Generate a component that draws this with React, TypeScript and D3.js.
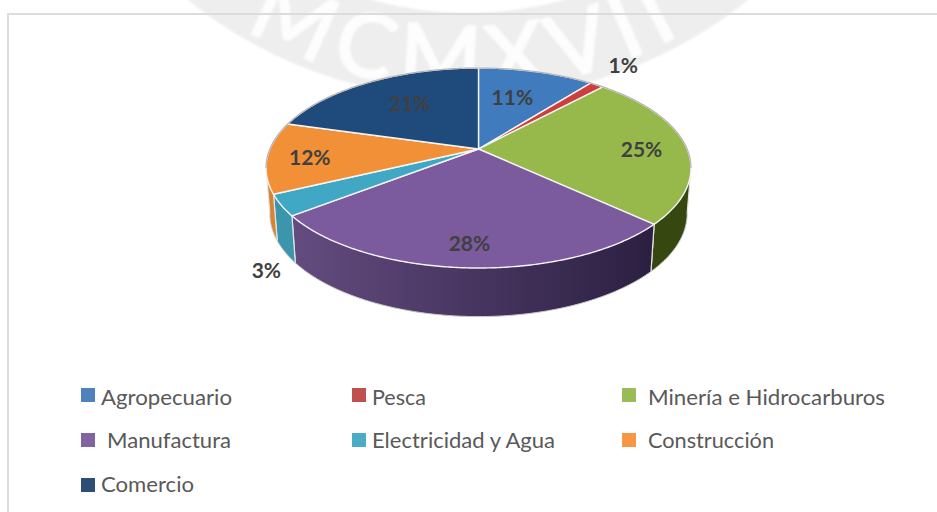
import React from "react";
import * as d3 from "d3";

const categories = ["Agropecuario", "Pesca", "Minería e Hidrocarburos", "Manufactura", "Electricidad y Agua", "Construcción", "Comercio"];
const values = [10.6, 1.3, 25.0, 27.6, 3.4, 11.5, 20.6];
const topColors = ["#3f7bbd", "#cd3f3c", "#97b94b", "#7b5a9e", "#40a8c4", "#f19036", "#1f4a7c"];
const legendColors = ["#4f81bd", "#c0504d", "#9bbb59", "#8064a2", "#4bacc6", "#f79646", "#2c4d75"];
const wallStart = ["#2c5580", "#8a2c2a", "#445a1c", "#644c80", "#3b95ad", "#d98232", "#16345a"];
const wallEnd = ["#2c5580", "#8a2c2a", "#36470f", "#2c2042", "#378da4", "#d98232", "#16345a"];
const labelRadius = [0.615, 1.32, 0.78, 0.83, 1.308, 0.8, 0.628];
const labelTurn = [-2, -1.6, 3, 0, -19.5, -1.7, 1.8];
const legendWidths = [131, 54, 237, 124, 183, 126, 93];
const legendTextX = [101, 372, 648, 107, 372, 648, 101];
const legendSwatchX = [81, 352, 622, 81, 352, 622, 81];
const legendRow = [0, 0, 0, 1, 1, 1, 2];
const legendRowY = [388, 433, 478];
const legendBaseline = [405, 448, 492];

const W = 937, H = 512;
const cx = 478.5, cy = 149, R = 208.6, K = 96.4, P = 0.19;
const TAU = Math.PI * 2;

const project = (a: number, f = 1): [number, number] => {
  const u = f * Math.sin(a), v = f * Math.cos(a), w = 1 + P * v;
  return [cx + (R * u) / w, cy - (K * v) / w];
};
const lower = ([x, y]: [number, number]): [number, number] => [cx + (x - cx) * 0.982, 194 + (y - cy) * 1.03];

const visA = Math.acos(-P);
const visB = TAU - visA;

const sample = (a0: number, a1: number) => {
  const n = Math.max(2, Math.ceil((a1 - a0) / 0.01));
  return d3.range(n + 1).map((i) => a0 + ((a1 - a0) * i) / n);
};
const line = d3.line<[number, number]>().x((d) => d[0]).y((d) => d[1]);

const pie = d3.pie<number>().sort(null).startAngle(0).endAngle(TAU);
const slices = pie(values);

const wmCx = 468, wmCy = -347;
const ring = d3.arc()({ innerRadius: 360, outerRadius: 446, startAngle: 0, endAngle: TAU }) as string;
const wmR = 436;
const wmA = 0.62;
const wmPath = `M${wmCx - wmR * Math.sin(wmA)},${wmCy + wmR * Math.cos(wmA)} A${wmR},${wmR} 0 0 0 ${wmCx + wmR * Math.sin(wmA)},${wmCy + wmR * Math.cos(wmA)}`;

export default function App() {
  const sans = "Lato, 'Open Sans', sans-serif";
  return (
    <svg width={W} height={H} viewBox={`0 0 ${W} ${H}`} style={{ position: "absolute", left: 0, top: 0, display: "block", background: "#fff" }}>
      <defs>
        <filter id="soft" x="-5%" y="-5%" width="110%" height="110%"><feGaussianBlur stdDeviation="1" /></filter>
        <path id="wmArc" d={wmPath} />
        {slices.map((_, i) => (
          <linearGradient key={i} id={`wall${i}`} gradientUnits="userSpaceOnUse" x1={cx - 190} x2={cx + 170} y1={0} y2={0}>
            <stop offset="0" stopColor={wallStart[i]} />
            <stop offset="1" stopColor={wallEnd[i]} />
          </linearGradient>
        ))}
      </defs>

      <g filter="url(#soft)">
        <path d={ring} transform={`translate(${wmCx},${wmCy})`} fill="#eeeeee" />
        <text fontFamily={sans} fontSize={88} fill="#fdfdfd" stroke="#fdfdfd" strokeWidth={2.5} textAnchor="middle" letterSpacing={11}>
          <textPath href="#wmArc" startOffset="50%">MCMXVII</textPath>
        </text>
      </g>

      <line x1={8} x2={W} y1={14} y2={14} stroke="#dcdcdc" strokeWidth={2} />
      <line x1={8} x2={8} y1={13} y2={H} stroke="#dcdcdc" strokeWidth={2} />

      {slices.map((s, i) => {
        const a0 = Math.max(s.startAngle, visA);
        const a1 = Math.min(s.endAngle, visB);
        if (a1 <= a0) return null;
        const top = sample(a0, a1).map((a) => project(a));
        const bottom = top.map(lower);
        const d = line([...top, ...bottom.slice().reverse()]) + "Z";
        return (
          <g key={i}>
            <path d={d} fill={`url(#wall${i})`} />
            <path d={line(bottom) || ""} fill="none" stroke="#c9c9c9" strokeWidth={1} />
            <path d={line([top[0], bottom[0]]) || ""} fill="none" stroke="#e4e4e4" strokeWidth={1.2} />
            <path d={line([top[top.length - 1], bottom[bottom.length - 1]]) || ""} fill="none" stroke="#e4e4e4" strokeWidth={1.2} />
          </g>
        );
      })}

      {slices.map((s, i) => {
        const arc = sample(s.startAngle, s.endAngle).map((a) => project(a));
        const d = line([[cx, cy], ...arc]) + "Z";
        return <path key={i} d={d} fill={topColors[i]} stroke="#f4f4f4" strokeWidth={1.4} strokeLinejoin="round" />;
      })}
      <path d={line(sample(visB, TAU).map((a) => project(a))) || ""} fill="none" stroke="#b4b4b4" strokeWidth={1.2} />
      <path d={line(sample(0, visA).map((a) => project(a))) || ""} fill="none" stroke="#b4b4b4" strokeWidth={1.2} />

      {slices.map((s, i) => {
        const mid = (s.startAngle + s.endAngle) / 2 + (labelTurn[i] * Math.PI) / 180;
        const [x, y] = project(mid, labelRadius[i]);
        return (
          <text key={i} x={x} y={y} dy="0.35em" textAnchor="middle" fontFamily={sans} fontWeight={700} fontSize={21} fill="#404040">
            {`${Math.round(values[i])}%`}
          </text>
        );
      })}

      {categories.map((c, i) => (
        <g key={c}>
          <rect x={legendSwatchX[i]} y={legendRowY[legendRow[i]]} width={14} height={14} fill={legendColors[i]} />
          <text x={legendTextX[i]} y={legendBaseline[legendRow[i]]} fontFamily={sans} fontSize={21} fill="#595959" textLength={legendWidths[i]} lengthAdjust="spacingAndGlyphs">
            {c}
          </text>
        </g>
      ))}
    </svg>
  );
}
